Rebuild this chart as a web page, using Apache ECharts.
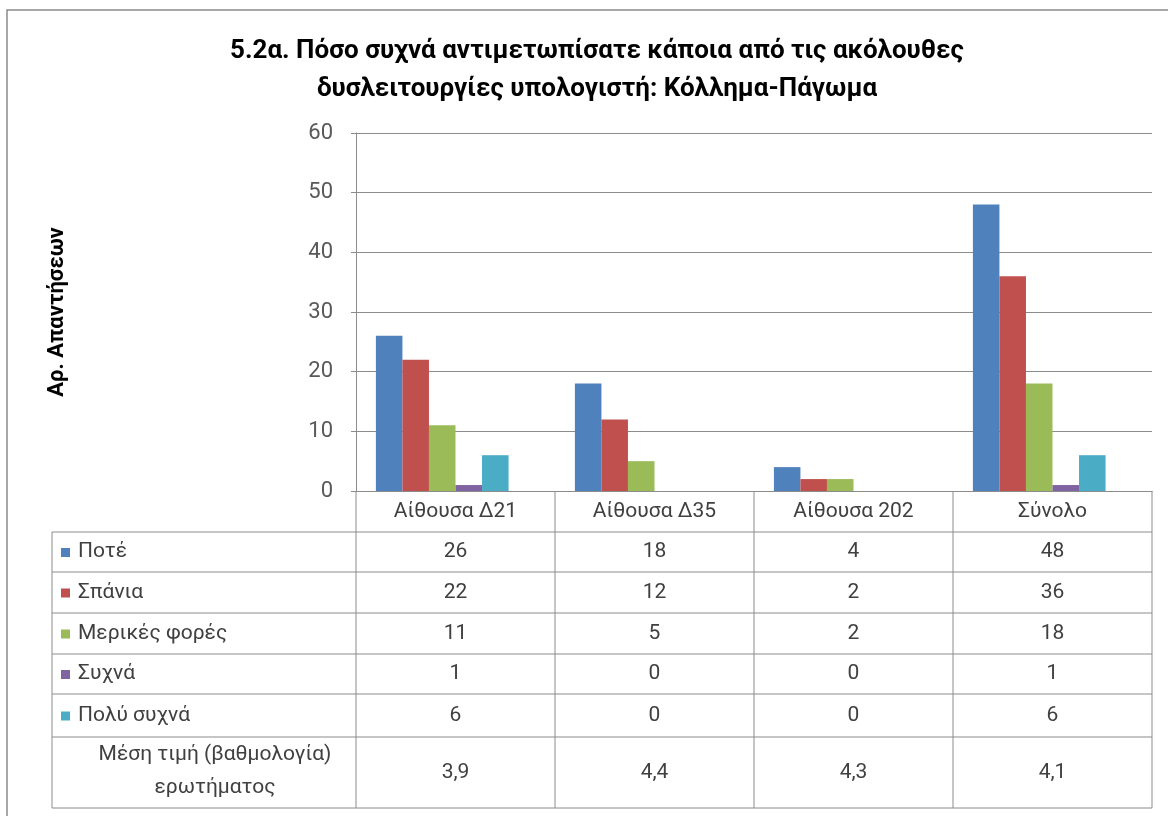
<!DOCTYPE html>
<html>
<head>
<meta charset="utf-8">
<title>5.2α Κόλλημα-Πάγωμα</title>
<script src="https://cdn.jsdelivr.net/npm/echarts@6/dist/echarts.min.js"></script>
<style>
  html, body { margin: 0; padding: 0; background: #fff; }
  #chart { width: 1168px; height: 816px; }
</style>
</head>
<body>
<div id="chart"></div>
<script>
// κατηγορίες (αίθουσες)
const categories = ['Αίθουσα Δ21', 'Αίθουσα Δ35', 'Αίθουσα 202', 'Σύνολο'];
// απαντήσεις ανά σειρά
const seriesNames = ['Ποτέ', 'Σπάνια', 'Μερικές φορές', 'Συχνά', 'Πολύ συχνά'];
const never = [26, 18, 4, 48];
const rarely = [22, 12, 2, 36];
const sometimes = [11, 5, 2, 18];
const often = [1, 0, 0, 1];
const veryOften = [6, 0, 0, 6];
// μέση τιμή (βαθμολογία) ερωτήματος
const meanScore = ['3,9', '4,4', '4,3', '4,1'];
// κενή έκτη σειρά του αρχικού γραφήματος (κρατάει θέση στην ομάδα)
const emptySlot = [null, null, null, null];
const yMin = 0, yMax = 60, yStep = 10;

const colors = ['#4F81BD', '#C0504D', '#9BBB59', '#8064A2', '#4BACC6'];
const seriesValues = [never, rarely, sometimes, often, veryOften];
const FONT = 'Roboto, "Noto Sans", sans-serif';
const GRID = { left: 356, right: 16, top: 133, bottom: 325 };
const lineColor = '#8c8c8c';
const textColor = '#404040';

const chart = echarts.init(document.getElementById('chart'));

let series = seriesValues.map(function (vals, i) {
  return {
    name: seriesNames[i],
    type: 'bar',
    data: vals,
    barGap: 0,
    barCategoryGap: '20%',
    itemStyle: { color: colors[i] },
    silent: true
  };
});
series.push({ name: '', type: 'bar', data: emptySlot, barGap: 0, barCategoryGap: '20%' });

chart.setOption({
  animation: false,
  title: {
    text: '5.2α. Πόσο συχνά αντιμετωπίσατε κάποια από τις ακόλουθες\nδυσλειτουργίες υπολογιστή: Κόλλημα-Πάγωμα',
    left: 592,
    top: 27,
    textAlign: 'center',
    textStyle: { fontFamily: FONT, fontSize: 26, fontWeight: 'bold', color: '#000', lineHeight: 38 }
  },
  grid: GRID,
  xAxis: {
    type: 'category',
    data: categories,
    axisLine: { show: true, lineStyle: { color: lineColor } },
    axisTick: { show: false },
    axisLabel: { show: false }
  },
  yAxis: {
    type: 'value',
    min: yMin,
    max: yMax,
    interval: yStep,
    name: 'Αρ. Απαντήσεων',
    nameLocation: 'middle',
    nameGap: 288,
    nameTextStyle: { fontFamily: FONT, fontSize: 22, fontWeight: 'bold', color: '#000' },
    axisLine: { show: true, lineStyle: { color: lineColor } },
    axisTick: { show: true, length: 5, lineStyle: { color: lineColor } },
    axisLabel: { fontFamily: FONT, fontSize: 22, color: '#595959', margin: 23 },
    splitLine: { lineStyle: { color: lineColor } }
  },
  series: series
});

// πίνακας δεδομένων κάτω από τον άξονα
function buildTable() {
  const g = [];
  const step = chart.convertToPixel({ xAxisIndex: 0 }, 1) - chart.convertToPixel({ xAxisIndex: 0 }, 0);
  const centers = categories.map(function (c, i) { return chart.convertToPixel({ xAxisIndex: 0 }, i); });
  const xLeftAxis = centers[0] - step / 2;
  const xRight = centers[centers.length - 1] + step / 2;
  const yAxis0 = chart.convertToPixel({ yAxisIndex: 0 }, 0);
  const tableLeft = 52;
  const rowY = [532, 572, 613, 654, 694, 737, 808];
  const line = function (x1, y1, x2, y2) {
    g.push({ type: 'line', silent: true, shape: { x1: x1, y1: y1, x2: x2, y2: y2 },
      style: { stroke: lineColor, lineWidth: 1 } });
  };
  const text = function (x, y, s, align) {
    g.push({ type: 'text', silent: true, x: x, y: y,
      style: { text: s, fill: textColor, font: '21px ' + FONT, align: align || 'center', verticalAlign: 'middle' } });
  };

  // κάθετες γραμμές στηλών
  for (let i = 0; i <= categories.length; i++) {
    const x = xLeftAxis + i * step;
    line(x, yAxis0, x, rowY[rowY.length - 1]);
  }
  line(tableLeft, rowY[0], tableLeft, rowY[rowY.length - 1]);
  rowY.forEach(function (y) { line(tableLeft, y, xRight, y); });

  // επικεφαλίδες
  categories.forEach(function (c, i) { text(centers[i], (yAxis0 + rowY[0]) / 2, c); });

  // γραμμές σειρών
  seriesValues.forEach(function (vals, r) {
    const yc = (rowY[r] + rowY[r + 1]) / 2;
    g.push({ type: 'rect', silent: true, shape: { x: 61, y: yc - 4, width: 9, height: 9 },
      style: { fill: colors[r] } });
    text(78, yc, seriesNames[r], 'left');
    vals.forEach(function (v, i) { text(centers[i], yc, String(v)); });
  });

  const ym = (rowY[5] + rowY[6]) / 2;
  text(215, ym - 18, 'Μέση τιμή (βαθμολογία)');
  text(215, ym + 15, 'ερωτήματος');
  meanScore.forEach(function (v, i) { text(centers[i], ym, v); });

  // περίγραμμα γραφήματος
  g.push({ type: 'rect', silent: true, z: -1, shape: { x: 7, y: 10, width: 1200, height: 850 },
    style: { fill: null, stroke: '#8a8a8a', lineWidth: 1.5 } });

  chart.setOption({ graphic: g });
}
buildTable();
</script>
</body>
</html>
